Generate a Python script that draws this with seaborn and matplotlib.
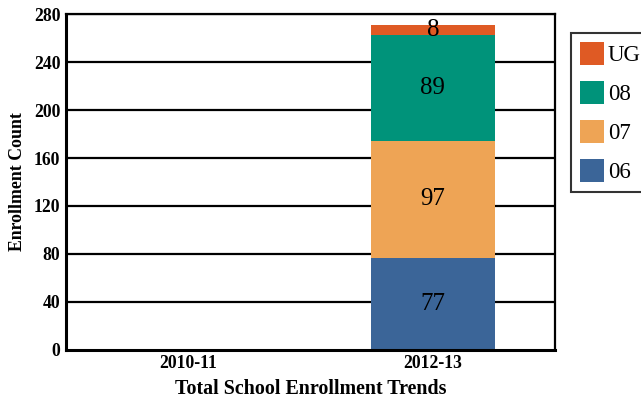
import numpy as np
import pandas as pd
import matplotlib.pyplot as plt
import seaborn as sns

# === Data ===
years = ["2010-11", "2012-13"]
grades = ["06", "07", "08", "UG"]
count_06 = [0, 77]
count_07 = [0, 97]
count_08 = [0, 89]
count_ug = [0, 8]
colors = {"06": "#3b6598", "07": "#eea455", "08": "#00937a", "UG": "#df5a24"}

sns.set_theme(style="white")
plt.rcParams["font.family"] = ["Liberation Serif", "DejaVu Serif"]
plt.rcParams["text.color"] = "black"
plt.rcParams["axes.labelcolor"] = "black"
plt.rcParams["xtick.color"] = "black"
plt.rcParams["ytick.color"] = "black"

df = pd.DataFrame({"Year": years, "06": count_06, "07": count_07, "08": count_08, "UG": count_ug})
cum = df[grades].cumsum(axis=1)

fig = plt.figure(figsize=(6.41, 4.04), dpi=100)
ax = fig.add_axes([0.103, 0.134, 0.763, 0.831])

# gridlines below bars
for y in range(40, 281, 40):
    ax.axhline(y, color="black", lw=1.6, zorder=0)

# draw cumulative totals, tallest first so lower segments sit on top
for g in reversed(grades):
    sns.barplot(x=df["Year"], y=cum[g], color=colors[g], width=0.506,
                linewidth=0, saturation=1, ax=ax, label=g, zorder=2)

# segment labels
for i in range(len(years)):
    bottom = 0
    for g in grades:
        v = df[g][i]
        if v > 0:
            ax.text(i, bottom + v / 2, str(v), ha="center", va="center",
                    fontsize=18, color="black", zorder=5)
        bottom += v

ax.set_ylim(0, 280)
ax.set_xlim(-0.5, 1.5)
ax.set_yticks(range(0, 281, 40))
ax.tick_params(axis="both", labelsize=12.7, length=0, pad=4)
for lbl in ax.get_yticklabels() + ax.get_xticklabels():
    lbl.set_fontweight("bold")
ax.set_xlabel("Total School Enrollment Trends", fontsize=14.4, fontweight="bold", labelpad=5)
ax.set_ylabel("Enrollment Count", fontsize=12.8, fontweight="bold", labelpad=6)

for side in ["left", "bottom"]:
    ax.spines[side].set_linewidth(2.2)
    ax.spines[side].set_color("black")
for side in ["right", "top"]:
    ax.spines[side].set_linewidth(1.6)
    ax.spines[side].set_color("black")

handles, labels = ax.get_legend_handles_labels()
leg = ax.legend(handles, labels, loc="upper left", bbox_to_anchor=(1.033, 0.945),
                fontsize=16.5, frameon=True, fancybox=False, edgecolor="black",
                handlelength=1.05, handleheight=1.15, handletextpad=0.15,
                labelspacing=0.65, borderpad=0.4, borderaxespad=0)
leg.get_frame().set_linewidth(1.5)

fig.savefig("out.png", dpi=100)
